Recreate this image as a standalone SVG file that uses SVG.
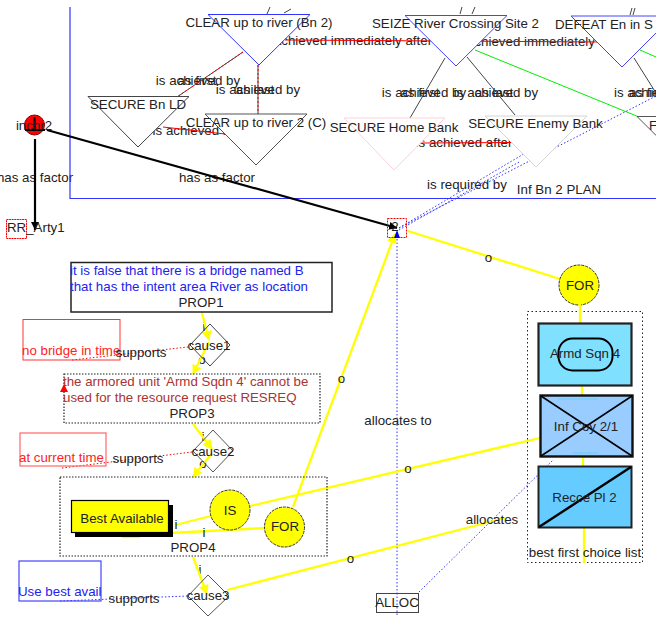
<svg xmlns="http://www.w3.org/2000/svg" width="664" height="617" viewBox="0 0 664 617">
<style>
text{font-family:"Liberation Sans",Arial,sans-serif;font-size:13.3px;fill:#222;text-anchor:middle}
.s{text-anchor:start}
.tri{fill:#fff;stroke-width:1}
.y{stroke:#ffff00;stroke-width:2.300;fill:none}
.blk{stroke:#000;stroke-width:2.200;fill:none}
.rel{stroke:#444;stroke-width:1;fill:none}
.relr{stroke:#f00;stroke-width:1;fill:none}
.dotb{stroke:#33f;stroke-width:1;stroke-dasharray:1.500 2;fill:none}
.dotr{stroke:#f00;stroke-width:1;stroke-dasharray:1.500 2;fill:none}
.circ{fill:#ffff00;stroke:#333;stroke-width:1;stroke-dasharray:3 1}
.box{fill:none;stroke:#222;stroke-width:1.500}
.dbox{fill:none;stroke:#222;stroke-width:1.200;stroke-dasharray:1.500 1.500}
.bl{fill:#22e}.rd{fill:#f22}.dr{fill:#a33}
</style>
<defs>
<clipPath id="c"><rect x="0" y="7" width="656" height="610"/></clipPath>
<marker id="ay" markerWidth="11" markerHeight="10" refX="9" refY="5" orient="auto" markerUnits="userSpaceOnUse"><path d="M0 0L10 5L0 10Z" fill="#ffff00"/></marker>
<marker id="ak" markerWidth="10" markerHeight="9" refX="8" refY="4" orient="auto" markerUnits="userSpaceOnUse"><path d="M0 0L8 4L0 8Z" fill="#000"/></marker>
</defs>
<g clip-path="url(#c)">
<g id="relabels">
<text x="198" y="85">is achieved by</text><text x="197" y="85">as first</text>
<text x="258" y="94">is achieved by</text><text x="255" y="94">as last</text>
<text x="201" y="135">is achieved after</text>
<text x="424" y="97">is achieved by</text><text x="420" y="97">as first</text>
<text x="496" y="97">is achieved by</text><text x="494" y="97">as last</text>
<text x="614" y="97" class="s">is achieved by</text><text x="629" y="97" class="s">as first</text>
<text x="353" y="45">achieved immediately after</text>
<text x="531" y="46">achieved immediately</text>
<text x="464" y="147">is achieved after</text>
<text x="467" y="189">is required by</text>
<text x="559" y="194">Inf Bn 2 PLAN</text>
<text x="35" y="182">has as factor</text>
<text x="217" y="182">has as factor</text>
<text x="204" y="331">i</text><text x="202" y="364">o</text><text x="203" y="441">i</text><text x="203" y="468">o</text><text x="200" y="574">i</text>
</g>
<g id="connectors">
<path d="M70 7V198.500H656" fill="none" stroke="#33f" stroke-width="1.200"/>
<path class="rel" d="M270 7L267 14M291 9L284 13M462 7L460 14M475 7L472 14M632 8L630 15M635 8L633 15"/>
<path class="relr" d="M285 40L600 42"/>
<path class="relr" d="M422 143L511 142.500"/>
<path class="relr" d="M163 127L225 134"/>
<path class="rel" d="M243 52L177 97"/>
<path class="relr" d="M243 52L177 97" stroke-dasharray="2 2"/>
<path class="rel" d="M258 65V114"/>
<path class="relr" d="M258 65V114" stroke-dasharray="2 2"/>
<path class="rel" d="M445 58L410 118"/>
<path class="rel" d="M467 57L515 115"/>
<path class="rel" d="M634 58L656 93"/>
<path d="M475 50L639 117" stroke="#00ee00" stroke-width="1" fill="none"/>
<path d="M640 50L656 57" stroke="#00ee00" stroke-width="1" fill="none"/>
<path class="dotb" d="M399 228L656 96"/>
<path class="dotb" d="M399 228L527 152"/>
<path class="dotb" d="M399 230L519 162"/>
<path class="dotb" d="M397 232V617"/>
<path class="dotb" d="M419 592L553 460"/>
<path class="blk" d="M47 130L397 228" marker-end="url(#ak)"/>
<path class="blk" d="M35 139V230" marker-end="url(#ak)"/>
<path class="y" d="M408 231L560 279"/>
<path class="y" d="M293 507L395 234" marker-end="url(#ay)"/>
<path class="y" d="M250 506L540 438"/>
<path class="y" d="M175 525L211 516"/>
<path class="y" d="M170 533L265 528"/>
<path class="y" d="M122 537H140"/>
<path class="y" d="M227 590L505 518"/>
<path class="y" d="M202 313L209 340" marker-end="url(#ay)"/>
<path class="y" d="M209 342L193 374" marker-end="url(#ay)"/>
<path class="y" d="M193 424L212 449" marker-end="url(#ay)"/>
<path class="y" d="M212 453L193 477" marker-end="url(#ay)"/>
<path class="y" d="M193 557L207 594" marker-end="url(#ay)"/>
<path class="dotr" d="M72 360L188 347"/>
<path class="dotr" d="M62 468L192 452"/>
<path class="dotb" d="M60 601L188 596" stroke-dasharray="2 1.500"/>
</g>
<g id="n1"><path class="tri" stroke="#33f" d="M208 14.500H310L259 65Z"/><text x="259" y="27">CLEAR up to river (Bn 2)</text></g>
<g id="n2"><path class="tri" stroke="#444" d="M88 96.500H189L138 147Z"/><text x="138" y="109">SECURE Bn LD</text></g>
<g id="n3"><path class="tri" stroke="#555" d="M205 114H307L256 165Z"/><text x="256" y="127">CLEAR up to river 2 (C)</text></g>
<g id="n4"><path class="tri" stroke="#44f" d="M405 15.500H507L456 66Z"/><text x="455.500" y="28">SEIZE River Crossing Site 2</text></g>
<g id="n5"><path class="tri" stroke="#44f" d="M571 16H673L622 67Z"/><text x="555" y="29" class="s">DEFEAT En in S</text></g>
<g id="n6"><path class="tri" stroke="#ffd0d8" d="M344 118H445L394 170Z"/><text x="394" y="132">SECURE Home Bank</text></g>
<g id="n7"><path class="tri" stroke="#d4d4d4" d="M485 116H587L536 167Z"/><text x="535.500" y="128">SECURE Enemy Bank</text></g>
<g id="n8"><path class="tri" stroke="#555" d="M637 116.500H740L688 167Z"/><text x="649" y="130" class="s">F</text></g>
<g id="incident"><circle cx="34.500" cy="125" r="10" fill="#f00" stroke="#800"/><path d="M25 130H45M34.500 117V130" stroke="#000" stroke-width="2" fill="none"/><text x="34" y="130">inchr2</text></g>
<g id="rr"><rect x="6.500" y="219.500" width="20" height="19" fill="none" stroke="#f00" stroke-dasharray="2 .6"/><text x="7" y="232" class="s">RR_Arty1</text></g>
<g id="req"><rect x="387.500" y="218.500" width="19" height="19" fill="none" stroke="#e00" stroke-dasharray="2 1"/><text x="395" y="231">2</text><path d="M394 238L397 230L400 238Z" fill="#0000ee"/></g>
<g id="prop1"><rect class="box" x="71" y="262.500" width="261" height="49.500"/><text x="70" y="275" class="s bl">it is false that there is a bridge named B</text><text x="70" y="291" class="s bl">that has the intent area River as location</text><text x="201" y="307">PROP1</text></g>
<g id="cause1"><path d="M210 324L230 345L210 366L190 345Z" fill="none" stroke="#444"/><text x="209" y="350">cause1</text></g>
<g id="note1"><rect x="23" y="319.500" width="97" height="40.500" fill="none" stroke="#f33"/><text x="22" y="355" class="s rd">no bridge in time</text></g>
<text x="141" y="357">supports</text>
<g id="prop3"><rect class="dbox" x="64" y="374" width="256" height="49"/><text x="63" y="386" class="s dr">the armored unit 'Armd Sqdn 4' cannot be</text><text x="63" y="402" class="s dr">used for the resource request RESREQ</text><text x="192" y="418">PROP3</text><path d="M60 392L64 384L68 392Z" fill="#f00"/></g>
<g id="cause2"><path d="M213 430L233 451L213 472L193 451Z" fill="none" stroke="#555"/><text x="213" y="456">cause2</text></g>
<g id="note2"><rect x="20" y="433" width="86" height="33" fill="none" stroke="#f66" stroke-width="1.200"/><text x="19" y="462" class="s rd">at current time</text></g>
<text x="138" y="463">supports</text>
<g id="prop4"><rect class="dbox" x="60" y="477" width="267" height="79"/><path d="M75 505H173V537H75Z" fill="#000"/><rect x="71.500" y="500.500" width="97" height="32" fill="#ffff00" stroke="#000" stroke-width="1.200"/><text x="122" y="523">Best Available</text><text x="176" y="529">i</text><text x="204" y="537">i</text><text x="193" y="552">PROP4</text></g>
<g id="is"><circle class="circ" cx="230" cy="510" r="20"/><text x="230" y="515">IS</text></g>
<g id="for1"><circle class="circ" cx="284.500" cy="527" r="20"/><text x="285" y="531">FOR</text></g>
<g id="cause3"><path d="M208 575L229 596L208 616L188 596Z" fill="none" stroke="#555"/><text x="208" y="600">cause3</text></g>
<g id="note3"><rect x="19" y="561" width="82" height="40" fill="none" stroke="#44f" stroke-width="1.200"/><text x="18" y="596" class="s bl">Use best avail</text></g>
<text x="134" y="603">supports</text>
<g id="for2"><circle class="circ" cx="579" cy="285" r="20"/><text x="580" y="290">FOR</text></g>
<g id="list"><rect x="527.500" y="311.500" width="115" height="251" fill="none" stroke="#222" stroke-dasharray="1.500 2.500"/>
<path class="y" d="M580 304V323"/><path class="y" d="M582 386V396"/><path class="y" d="M583 458V466"/><path class="y" d="M584 528V563"/>
<text x="585" y="557">best first choice list</text>
</g>
<g id="armd"><rect x="538.500" y="323.500" width="93" height="62" fill="#80e0ff" stroke="#222" stroke-width="2.200"/><rect x="558.500" y="338.500" width="54" height="32" rx="14" fill="none" stroke="#000" stroke-width="2"/><text x="585" y="358">Armd Sqn 4</text></g>
<g id="inf"><rect x="540.500" y="395.500" width="92" height="61" fill="#99ccff" stroke="#111" stroke-width="2.400"/><path d="M558 399H598M573 453H598" stroke="#66ccff"/><path d="M541 396L632 456M632 396L541 456" stroke="#000" stroke-width="1.500"/><text x="586" y="431">Inf Coy 2/1</text></g>
<g id="recce"><rect x="538.500" y="466.500" width="93" height="61" fill="#66ccff" stroke="#222" stroke-width="2"/><path d="M539 527L631 467" stroke="#000" stroke-width="2.400"/><text x="584.500" y="501.500">Recce Pl 2</text></g>
<text x="398" y="425">allocates to</text>
<text x="492" y="524">allocates</text>
<text x="488.500" y="262">o</text><text x="341.500" y="383">o</text><text x="408" y="473">o</text><text x="350.500" y="563">o</text>
<g id="alloc"><rect x="376.500" y="593.500" width="42" height="19" fill="#fff" stroke="#444"/><path d="M397 593V613" stroke="#33f" stroke-dasharray="1.500 2"/><text x="397" y="607">ALLOC</text></g>
</g>
</svg>
